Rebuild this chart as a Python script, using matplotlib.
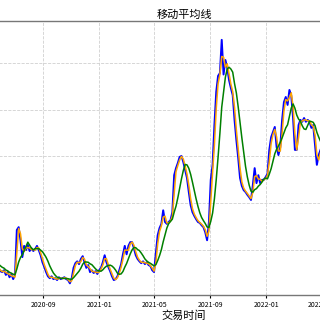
import matplotlib
matplotlib.use("Agg")
import matplotlib.pyplot as plt
import matplotlib.dates as mdates
import pandas as pd

plt.rcParams["font.family"] = ["Noto Sans CJK SC", "DejaVu Sans"]
plt.rcParams["axes.unicode_minus"] = False

# closing price, sampled every 4 days from 2020-04-28
start_date = "2020-04-28"
close = [
    7.5, 8.0, 7.5, 7.0, 7.5, 6.5, 6.5, 6.0, 5.5,
    5.3, 5.7, 4.7, 5.3, 4.2, 4.9, 3.8, 4.7, 14.3, 14.9,
    12.1, 8.5, 10.9, 10.0, 11.1, 9.8, 10.4, 9.8, 10.2, 10.9,
    10.0, 8.9, 7.4, 6.4, 5.3, 4.4, 4.0, 4.4, 3.8, 4.0,
    3.6, 4.2, 3.8, 4.0, 4.2, 3.8, 3.6, 2.9, 4.0, 6.2,
    7.2, 7.6, 7.0, 8.1, 8.7, 7.4, 6.2, 6.8, 5.3, 5.7,
    5.1, 5.5, 4.9, 5.7, 6.2, 7.4, 8.9, 7.4, 6.4, 5.5,
    4.4, 3.6, 3.8, 4.4, 5.7, 7.0, 9.1, 10.9, 9.1, 10.9,
    11.7, 11.7, 10.4, 8.9, 8.1, 7.6, 7.2, 7.6, 7.0, 7.4,
    6.8, 6.6, 5.7, 5.3, 9.4, 13.2, 14.7, 15.6, 18.5, 16.0,
    15.6, 16.0, 16.4, 18.1, 26.0, 27.5, 28.6, 29.9, 30.1, 28.8,
    27.1, 25.4, 22.4, 19.6, 18.1, 17.3, 16.6, 16.0, 15.8, 15.3,
    14.9, 13.8, 12.1, 16.0, 25.0, 28.2, 36.7, 43.8, 47.2, 47.8,
    54.9, 47.5, 50.6, 49.0, 46.3, 44.6, 43.1, 37.8, 33.5, 29.7,
    25.4, 23.7, 22.8, 22.4, 21.8, 21.3, 20.7, 23.9, 27.5,
    24.3, 26.0, 24.3, 25.0, 25.0, 25.6, 26.3, 31.4, 34.1, 35.2,
    36.3, 32.0, 30.3, 32.0, 37.8, 41.6, 42.7, 41.0, 44.2, 43.0,
    38.2, 31.4, 31.4, 36.7, 37.8, 37.4, 38.2, 37.4, 37.8, 37.4,
    36.1, 36.7, 32.5, 28.2, 30.3, 31.4,
]

dates = pd.date_range(start_date, periods=len(close), freq="4D")
price = pd.Series(close, index=dates)
ma_short = price.rolling(2).mean()
ma_long = price.rolling(7).mean()

fig = plt.figure(figsize=(3.2, 3.2), dpi=100)
ax = fig.add_axes([-0.1875, 0.078, 1.525, 0.856])

ax.plot(dates, price, color="blue", linewidth=1.4)
ax.plot(dates, ma_short, color="orange", linewidth=1.1)
ax.plot(dates, ma_long, color="green", linewidth=1.1)

ax.set_xlim(pd.Timestamp("2020-01-19"), pd.Timestamp("2022-12-21"))
ax.set_ylim(0.4, 58.9)
ax.set_yticks([10, 20, 30, 40, 50])
ax.xaxis.set_major_locator(mdates.MonthLocator(bymonth=[1, 5, 9]))
ax.xaxis.set_major_formatter(mdates.DateFormatter("%Y-%m"))
ax.tick_params(labelsize=5, length=2.5, pad=1.5)

ax.grid(True, linestyle="--", color="#d0d0d0", linewidth=0.6)
for s in ax.spines.values():
    s.set_color("#777777")
    s.set_linewidth(1.0)

ax.set_title("移动平均线", fontsize=8, pad=2)
ax.set_xlabel("交易时间", fontsize=8, labelpad=1.5)

fig.savefig("out.png", dpi=100)
